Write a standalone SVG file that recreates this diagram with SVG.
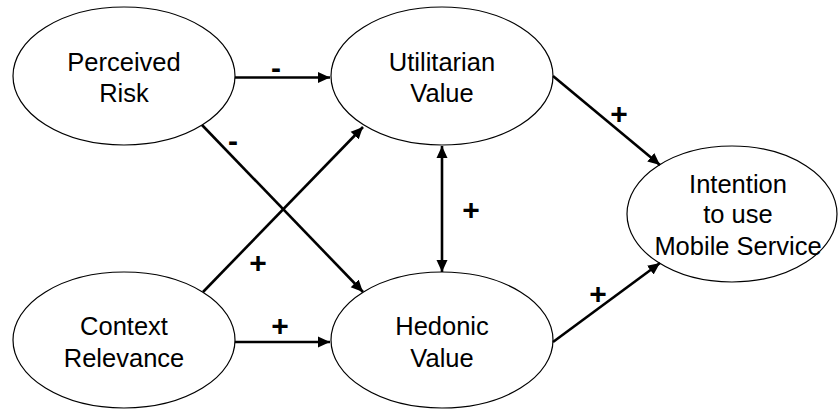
<svg xmlns="http://www.w3.org/2000/svg" width="838" height="410" viewBox="0 0 838 410">
<style>
.node ellipse{fill:#fff;stroke:#000;stroke-width:1.2}
.node text{font-family:"Liberation Sans",Arial,sans-serif;font-size:25.5px;fill:#000;text-anchor:middle}
#connectors line{stroke:#000;stroke-width:2.6}
.lbl{font-family:"Liberation Sans",Arial,sans-serif;font-size:30px;font-weight:bold;fill:#000;text-anchor:middle}
</style>
<defs>
<marker id="ah" markerUnits="userSpaceOnUse" markerWidth="14" markerHeight="14" viewBox="0 0 14 14" refX="12" refY="7" orient="auto-start-reverse">
<path d="M0,1.5 L12,7 L0,12.5 Z" fill="#000"/>
</marker>
</defs>
<rect width="838" height="410" fill="#fff"/>
<g id="pr" class="node"><ellipse cx="124" cy="76" rx="111" ry="69"/><text x="124" y="71">Perceived</text><text x="124" y="102">Risk</text></g>
<g id="uv" class="node"><ellipse cx="442" cy="76" rx="111" ry="69"/><text x="442" y="71">Utilitarian</text><text x="442" y="102">Value</text></g>
<g id="cr" class="node"><ellipse cx="124" cy="340" rx="111" ry="68"/><text x="124" y="335">Context</text><text x="124" y="367">Relevance</text></g>
<g id="hv" class="node"><ellipse cx="442" cy="340" rx="111" ry="68"/><text x="442" y="335">Hedonic</text><text x="442" y="367">Value</text></g>
<g id="iu" class="node"><ellipse cx="732" cy="214" rx="105" ry="68"/><text x="738" y="193">Intention</text><text x="738" y="223">to use</text><text x="738" y="255">Mobile Service</text></g>
<g id="connectors">
<line x1="235" y1="77.5" x2="330" y2="77.5" marker-end="url(#ah)"/>
<line x1="202" y1="125" x2="363" y2="292" marker-end="url(#ah)"/>
<line x1="203" y1="292" x2="363" y2="127" marker-end="url(#ah)"/>
<line x1="235" y1="342" x2="330" y2="342" marker-end="url(#ah)"/>
<line x1="442" y1="146" x2="442" y2="272" marker-start="url(#ah)" marker-end="url(#ah)"/>
<line x1="553" y1="76" x2="660" y2="165" marker-end="url(#ah)"/>
<line x1="553" y1="342" x2="660" y2="263" marker-end="url(#ah)"/>
<text class="lbl" x="276" y="78">-</text>
<text class="lbl" x="233" y="151">-</text>
<text class="lbl" x="258" y="273">+</text>
<text class="lbl" x="280" y="336">+</text>
<text class="lbl" x="471" y="220">+</text>
<text class="lbl" x="619" y="124">+</text>
<text class="lbl" x="598" y="304">+</text>
</g>
</svg>
